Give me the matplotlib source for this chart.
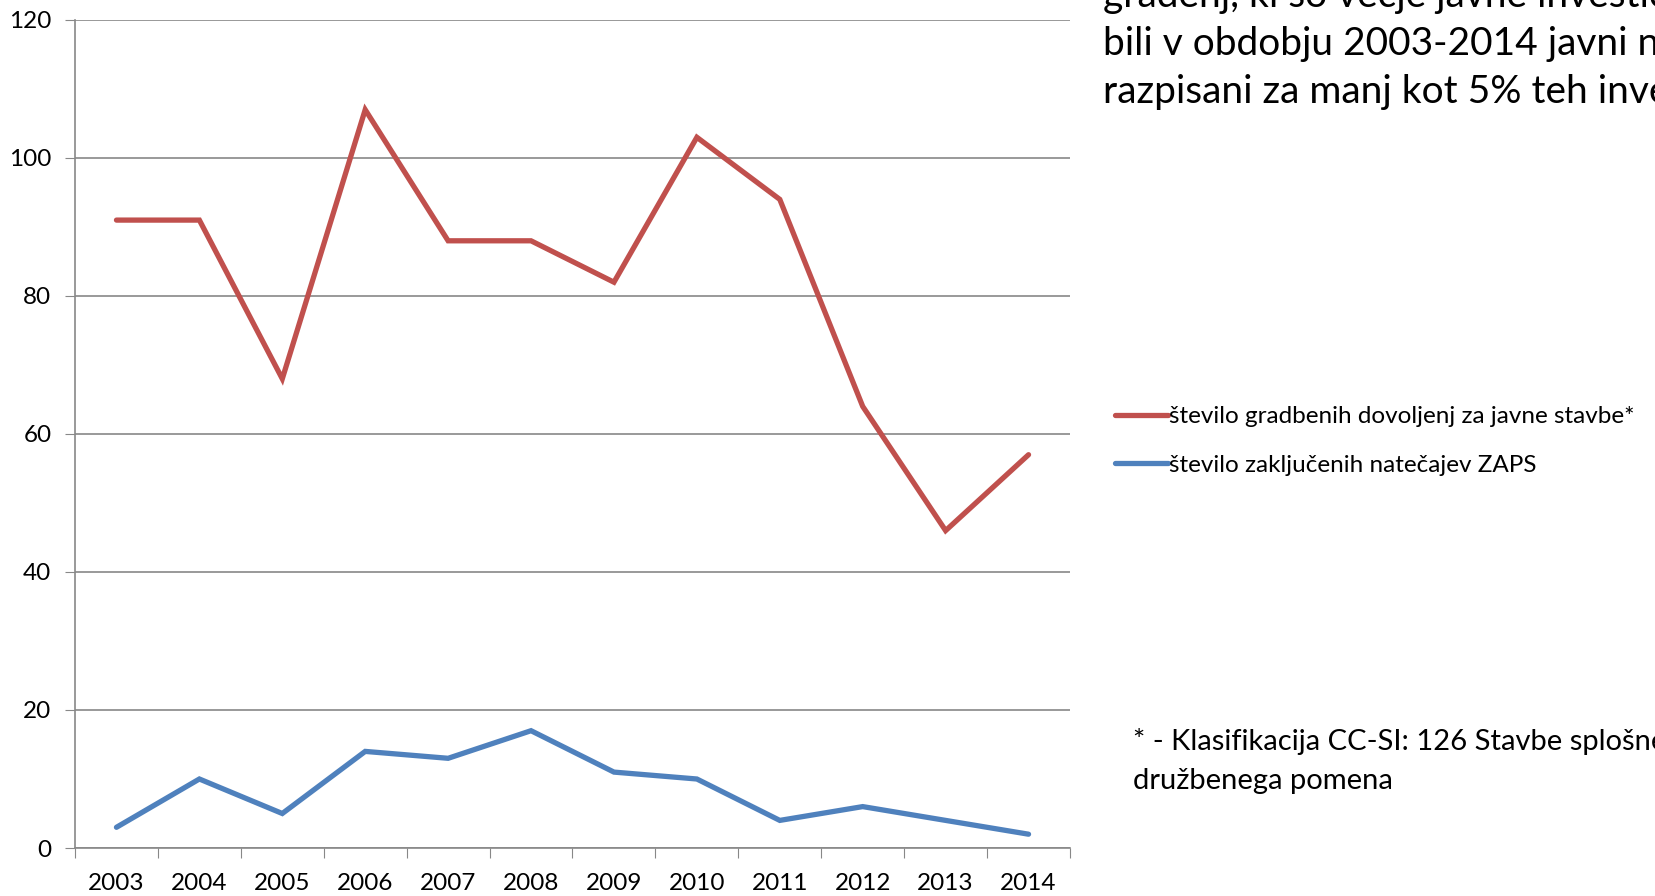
import matplotlib
matplotlib.use("Agg")
import matplotlib.pyplot as plt

# data
years = ["2003", "2004", "2005", "2006", "2007", "2008",
         "2009", "2010", "2011", "2012", "2013", "2014"]
dovoljenja = [91, 91, 68, 107, 88, 88, 82, 103, 94, 64, 46, 57]
natecaji = [3, 10, 5, 14, 13, 17, 11, 10, 4, 6, 4, 2]
label_red = "število gradbenih dovoljenj za javne stavbe*"
label_blue = "število zaključenih natečajev ZAPS"
yticks = [0, 20, 40, 60, 80, 100, 120]

plt.rcParams['font.family'] = ['Lato', 'DejaVu Sans']

W, H = 1656, 896
fig = plt.figure(figsize=(W / 100, H / 100), dpi=100)
ax = fig.add_axes([75 / W, 1 - 848 / H, (1070 - 75) / W, (848 - 20) / H])

x = list(range(len(years)))
ax.plot(x, dovoljenja, color="#C0504D", lw=3.8, solid_capstyle="round",
        solid_joinstyle="miter", label=label_red)
ax.plot(x, natecaji, color="#4F81BD", lw=3.8, solid_capstyle="round",
        solid_joinstyle="miter", label=label_blue)

ax.set_xlim(-0.5, len(years) - 0.5)
ax.set_ylim(0, 120)
ax.set_yticks(yticks)
ax.tick_params(axis="y", labelsize=17.5, length=7, color="#888888", pad=10)
ax.grid(axis="y", color="#888888", lw=1.2)
ax.set_axisbelow(True)

# category ticks between years, labels at centers
ax.set_xticks([i - 0.5 for i in range(len(years) + 1)])
ax.set_xticklabels([])
ax.set_xticks(x, minor=True)
ax.set_xticklabels(years, minor=True, fontsize=17.5)
ax.tick_params(axis="x", which="major", length=7, color="#888888")
ax.tick_params(axis="x", which="minor", length=0, pad=18)

for s in ["top", "right"]:
    ax.spines[s].set_visible(False)
for s in ["left", "bottom"]:
    ax.spines[s].set_color("#888888")
    ax.spines[s].set_linewidth(1.2)

# legend
fig.legend(loc="center left", bbox_to_anchor=(1105 / W, 1 - 441 / H),
           frameon=False, fontsize=17.5, handlelength=2.2, handletextpad=0.05,
           labelspacing=1.15, borderaxespad=0)

# text on the right
tx = 1103 / W
fig.text(tx, 1 - 7 / H, "gradenj, ki so večje javne investicije,", fontsize=28)
fig.text(tx, 1 - 55 / H, "bili v obdobju 2003-2014 javni natečaji", fontsize=28)
fig.text(tx, 1 - 103 / H, "razpisani za manj kot 5% teh investicij", fontsize=28)

fig.text(1133 / W, 1 - 750 / H, "* - Klasifikacija CC-SI: 126 Stavbe splošnega", fontsize=21)
fig.text(1133 / W, 1 - 789 / H, "družbenega pomena", fontsize=21)

fig.savefig("out.png", dpi=100)
